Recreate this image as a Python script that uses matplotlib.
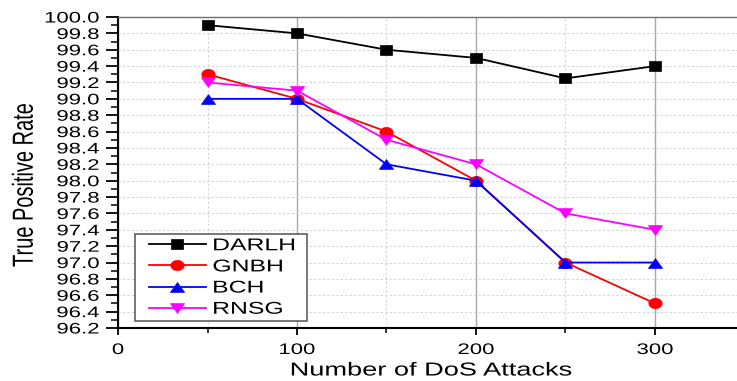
import numpy as np
import matplotlib
matplotlib.use('Agg')
import matplotlib.pyplot as plt
from matplotlib.path import Path
from matplotlib.lines import Line2D
from matplotlib.transforms import Affine2D
from matplotlib.patheffects import AbstractPathEffect
from matplotlib.legend_handler import HandlerLine2D

# values
attacks = [50, 100, 150, 200, 250, 300]
darlh = [99.9, 99.8, 99.6, 99.5, 99.25, 99.4]
gnbh = [99.3, 99.0, 98.6, 98.0, 97.0, 96.5]
bch = [99.0, 99.0, 98.2, 98.0, 97.0, 97.0]
rnsg = [99.2, 99.1, 98.5, 98.2, 97.6, 97.4]
series_names = ['DARLH', 'GNBH', 'BCH', 'RNSG']

x_ticks = [0, 100, 200, 300]
x_minor = [50, 150, 250]
y_ticks = np.round(np.arange(96.2, 100.01, 0.2), 1)
y_minor = np.round(np.arange(96.3, 100.0, 0.2), 1)

K = 1.45  # the source image is stretched sideways, so glyphs and markers are too


class Stretch(AbstractPathEffect):
    """Widen text glyphs horizontally around an anchor."""
    def __init__(self, k=K, anchor=0.5, rotated=False):
        super().__init__()
        self.k, self.anchor, self.rotated = k, anchor, rotated

    def draw_path(self, renderer, gc, tpath, affine, rgbFace=None):
        ext = tpath.get_extents()
        if self.rotated:
            c = (ext.y0 + ext.y1) / 2
            pre = Affine2D().translate(0, -c).scale(1, self.k).translate(0, c)
        else:
            c = ext.x0 + self.anchor * ext.width
            pre = Affine2D().translate(-c, 0).scale(self.k, 1).translate(c, 0)
        renderer.draw_path(gc, tpath, pre + affine, rgbFace)


class ShiftedLine(HandlerLine2D):
    # leaves a gap on the left of the legend handle
    shift = 7.0

    def create_artists(self, legend, orig_handle, xdescent, ydescent, width, height, fontsize, trans):
        return super().create_artists(legend, orig_handle, xdescent - self.shift, ydescent,
                                      width - self.shift, height, fontsize, trans)


def wide(verts, sx):
    v = np.array(verts, float)
    v[:, 0] *= sx
    return Path(np.vstack([v, v[:1]]), closed=True)


sq = wide([(-1, -1), (1, -1), (1, 1), (-1, 1)], 1.2)
tri_up = wide([(0, 1), (-1, -1), (1, -1)], 1.45)
tri_dn = wide([(0, -1), (1, 1), (-1, 1)], 1.45)
circ = Path.unit_circle().transformed(Affine2D().scale(1.3, 1))

plt.rcParams['font.family'] = ['Liberation Sans', 'DejaVu Sans']

fig = plt.figure(figsize=(7.37, 3.81), dpi=100)
W, H = 737, 381
ax = fig.add_axes([118 / W, 1 - 328 / H, 626.5 / W, (328 - 17) / H])

ax.plot(attacks, darlh, color='black', lw=1.3, marker=sq, ms=9, mew=0.5, label=series_names[0])
ax.plot(attacks, gnbh, color='#ff0000', lw=1.3, marker=circ, ms=9.6, mew=0.5, label=series_names[1])
ax.plot(attacks, bch, color='#0000ff', lw=1.3, marker=tri_up, ms=10.2, mew=0.5, label=series_names[2])
ax.plot(attacks, rnsg, color='#ff00ff', lw=1.3, marker=tri_dn, ms=10.2, mew=0.5, label=series_names[3])

ax.set_xlim(0, 350)
ax.set_ylim(96.2, 100.0)
ax.set_xticks(x_ticks)
ax.set_xticks(x_minor, minor=True)
ax.set_yticks(y_ticks, [f'{v:.1f}' for v in y_ticks])
ax.set_yticks(y_minor, minor=True)

# grid: solid grey at major x, dotted elsewhere
ax.grid(axis='x', which='major', color='#a8a8a8', lw=1.0, ls='-')
ax.grid(axis='x', which='minor', color='#d4d4d4', lw=0.8, ls=(0, (2, 2)))
ax.grid(axis='y', which='major', color='#d4d4d4', lw=0.8, ls=(0, (2, 2)))
ax.set_axisbelow(True)

for s in ['left', 'bottom']:
    ax.spines[s].set_linewidth(1.5)
    ax.spines[s].set_color('black')
ax.spines['top'].set_color('#707070')
ax.spines['top'].set_linewidth(1.0)
ax.spines['right'].set_visible(False)

ax.tick_params(axis='y', which='major', direction='out', length=8.6, width=1.3, labelsize=11, pad=5)
ax.tick_params(axis='y', which='minor', direction='out', length=5, width=1.1)
ax.tick_params(axis='x', which='major', direction='out', length=5, width=1.3, labelsize=11, pad=5.8)
ax.tick_params(axis='x', which='minor', direction='out', length=3.6, width=1.1)

for lab in ax.get_yticklabels():
    lab.set_path_effects([Stretch(anchor=1.0)])
for lab in ax.get_xticklabels():
    lab.set_path_effects([Stretch(anchor=0.5)])

fig.text(431 / W, 1 - 371 / H, 'Number of DoS Attacks', fontsize=13.5,
         ha='center', va='center', path_effects=[Stretch(anchor=0.5)])
fig.text(24 / W, 1 - 185 / H, 'True Positive Rate', fontsize=14.4, rotation=90,
         ha='center', va='center', path_effects=[Stretch(rotated=True)])

leg = ax.legend(loc='upper left', bbox_to_anchor=(135 / W, 1 - 322 / H, (307 - 135) / W, (322 - 234) / H),
                bbox_transform=fig.transFigure, mode='expand', borderaxespad=0,
                fontsize=12.3, handlelength=3.9, handletextpad=0.4, labelspacing=0.36,
                borderpad=0.25, fancybox=False, framealpha=1,
                handler_map={Line2D: ShiftedLine()})
leg.get_frame().set_edgecolor('#606060')
leg.get_frame().set_linewidth(1.2)
for t in leg.get_texts():
    t.set_path_effects([Stretch(anchor=0.0)])

fig.savefig('out.png', dpi=100)
